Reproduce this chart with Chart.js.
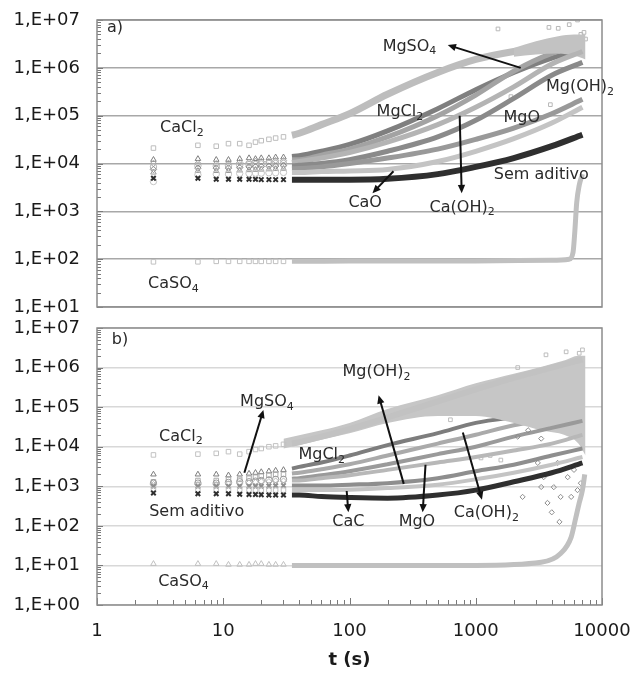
<!DOCTYPE html>
<html lang="pt">
<head>
<meta charset="utf-8">
<title>t (s)</title>
<script src="https://cdn.jsdelivr.net/npm/chart.js@4.4.1/dist/chart.umd.min.js"></script>
<style>
  html, body { margin: 0; padding: 0; background: #fff; }
  #fig { position: relative; width: 633px; height: 674px; }
  #chartA { position: absolute; left: 0; top: 0; }
  #chartB { position: absolute; left: 0; top: 315px; }
</style>
</head>
<body>
<div id="fig">
  <canvas id="chartA" width="633" height="315"></canvas>
  <canvas id="chartB" width="633" height="359"></canvas>
</div>
<script>
// sample times (s) shared by the band series of both panels
const T = [2.8, 6.3, 8.8, 11, 13.5, 16, 18, 20, 23, 26, 30, 35, 40, 60, 100, 200, 500, 1000, 2000, 4000, 7000];
const LINE_START = 35; // before this the readings are sparse markers

// tick labels
const X_LABELS = ['1', '10', '100', '1000', '10000'];
const Y_LABELS = ['1,E+00', '1,E+01', '1,E+02', '1,E+03', '1,E+04', '1,E+05', '1,E+06', '1,E+07'];

// ---- panel a) ----
const A_CACL2 = [2.1e4, 2.4e4, 2.3e4, 2.6e4, 2.6e4, 2.4e4, 2.8e4, 3.0e4, 3.2e4, 3.4e4, 3.6e4, 3.9e4, 4.3e4, 6.5e4, 1.1e5, 2.8e5, 8e5, 1.5e6, 2.2e6, 2.8e6, 3.6e6];
const A_MGCL2 = [1.2e4, 1.25e4, 1.2e4, 1.2e4, 1.25e4, 1.3e4, 1.25e4, 1.3e4, 1.3e4, 1.35e4, 1.35e4, 1.4e4, 1.45e4, 1.8e4, 2.5e4, 4.8e4, 1.4e5, 3.5e5, 8e5, 1.6e6, 2.4e6];
const A_MGSO4 = [1.0e4, 1.0e4, 9.8e3, 1.0e4, 1.05e4, 1.05e4, 1.1e4, 1.1e4, 1.1e4, 1.15e4, 1.15e4, 1.2e4, 1.2e4, 1.5e4, 2.0e4, 3.6e4, 1.0e5, 2.7e5, 8.5e5, 2.0e6, 3.0e6];
const A_CAOH2 = [8.5e3, 9e3, 8.8e3, 9e3, 9.2e3, 9.5e3, 9.5e3, 9.8e3, 1e4, 1e4, 1e4, 1.05e4, 1.1e4, 1.3e4, 1.7e4, 2.8e4, 6.5e4, 1.5e5, 4e5, 1.2e6, 2.2e6];
const A_MGOH2 = [7.5e3, 8e3, 8e3, 8e3, 8.2e3, 8.5e3, 8.5e3, 8.6e3, 8.8e3, 8.8e3, 9e3, 9e3, 9.2e3, 1e4, 1.2e4, 1.8e4, 3.6e4, 8e4, 2.3e5, 7e5, 1.3e6];
const A_MGO = [6.5e3, 7e3, 7e3, 7e3, 7.2e3, 7.3e3, 7.4e3, 7.5e3, 7.6e3, 7.7e3, 7.8e3, 7.8e3, 7.9e3, 8.5e3, 1e4, 1.3e4, 2e4, 3.2e4, 5.5e4, 1.1e5, 2.2e5];
const A_CAO = [4.2e3, 5.8e3, 6e3, 6e3, 6.2e3, 6.2e3, 6.3e3, 6.3e3, 6.4e3, 6.4e3, 6.5e3, 6.5e3, 6.5e3, 6.8e3, 7e3, 7.5e3, 1.1e4, 1.8e4, 3.3e4, 7e4, 1.5e5];
const A_SEM = [4.9e3, 4.9e3, 4.7e3, 4.7e3, 4.7e3, 4.7e3, 4.7e3, 4.6e3, 4.6e3, 4.6e3, 4.6e3, 4.6e3, 4.6e3, 4.6e3, 4.6e3, 4.8e3, 6e3, 8.5e3, 1.3e4, 2.3e4, 4e4];
const T_CASO4_A = [2.8, 6.3, 8.8, 11, 13.5, 16, 18, 20, 23, 26, 30, 35, 40, 100, 1000, 4000, 5500, 5900, 6100, 6300, 6600, 7000];
const A_CASO4 = [88, 88, 90, 90, 90, 90, 90, 90, 90, 90, 90, 90, 90, 92, 92, 95, 100, 140, 400, 1500, 3500, 6000];
const T_CLOUD_A = [2000, 3000, 4500, 6000, 7400];
const A_CLOUD_HI = [2.6e6, 3.6e6, 4.6e6, 5e6, 5e6];
const A_CLOUD_LO = [1.7e6, 1.9e6, 2e6, 1.8e6, 1.5e6];
const T_NOISE_A = [1500, 1900, 3800, 3900, 4500, 5500, 6400, 6800, 7200, 7400];
const A_NOISE = [6.5e6, 2.5e5, 7e6, 1.7e5, 6.7e6, 8e6, 1e7, 5e6, 5.5e6, 4e6];

// ---- panel b) ----
const B_CACL2 = [6.2e3, 6.5e3, 6.8e3, 7.5e3, 6.5e3, 7.5e3, 8.5e3, 9e3, 1e4, 1.05e4, 1.15e4, 1.2e4, 1.3e4, 1.8e4, 2.8e4, 5.5e4, 1.4e5, 2.8e5, 5.5e5, 1e6, 1.6e6];
const B_MGSO4 = [2.0e3, 2.0e3, 2.0e3, 1.9e3, 2.0e3, 2.1e3, 2.2e3, 2.3e3, 2.4e3, 2.5e3, 2.6e3, 2.8e3, 3.1e3, 4e3, 6e3, 1.1e4, 2.2e4, 4e4, 5.5e4, 7e4, 9e4];
const B_MGCL2 = [1.3e3, 1.4e3, 1.4e3, 1.5e3, 1.5e3, 1.6e3, 1.7e3, 1.8e3, 1.9e3, 2e3, 2e3, 2.1e3, 2.2e3, 2.7e3, 3.6e3, 6e3, 1.2e4, 2e4, 3.5e4, 5e4, 7e4];
const B_CAOH2 = [1.2e3, 1.2e3, 1.2e3, 1.25e3, 1.3e3, 1.3e3, 1.35e3, 1.4e3, 1.45e3, 1.5e3, 1.5e3, 1.55e3, 1.6e3, 1.9e3, 2.4e3, 3.6e3, 6.5e3, 1e4, 1.8e4, 3e4, 4.5e4];
const B_MGO = [1.1e3, 1.1e3, 1.1e3, 1.15e3, 1.2e3, 1.2e3, 1.25e3, 1.3e3, 1.3e3, 1.35e3, 1.35e3, 1.4e3, 1.4e3, 1.6e3, 1.9e3, 2.6e3, 4e3, 5.5e3, 8e3, 1.2e4, 2e4];
const B_MGOH2 = [1e3, 1e3, 1e3, 1e3, 1e3, 1e3, 1e3, 1e3, 1.02e3, 1.03e3, 1.04e3, 1.05e3, 1.05e3, 1.05e3, 1.1e3, 1.2e3, 1.6e3, 2.4e3, 3.5e3, 6e3, 9e3];
const B_CAO = [8e2, 8e2, 8e2, 8e2, 8e2, 8e2, 8e2, 8e2, 8e2, 8e2, 8e2, 8e2, 8e2, 8e2, 8.2e2, 9e2, 1.1e3, 1.5e3, 2.2e3, 3.5e3, 5.5e3];
const B_SEM = [6.8e2, 6.5e2, 6.5e2, 6.5e2, 6.3e2, 6.2e2, 6.2e2, 6.1e2, 6e2, 6e2, 6e2, 6e2, 6e2, 5.5e2, 5.2e2, 5e2, 6e2, 8e2, 1.3e3, 2.2e3, 3.9e3];
const T_CASO4_B = [2.8, 6.3, 8.8, 11, 13.5, 16, 18, 20, 23, 26, 30, 35, 40, 100, 1000, 3300, 4700, 5700, 6200, 6600, 7000, 7300];
const B_CASO4 = [11, 11, 11, 10.5, 10.5, 10.5, 11, 11, 10.5, 10.5, 10.5, 10, 10, 10, 10, 12, 20, 52, 160, 380, 800, 2000];
const T_CLOUD_B = [30, 60, 100, 200, 500, 1000, 2000, 3500, 5000, 6500, 7400];
const B_CLOUD_HI = [1.6e4, 2.6e4, 4e4, 9e4, 2e5, 4e5, 7e5, 1.1e6, 1.5e6, 2e6, 2e6];
const B_CLOUD_LO = [9e3, 1.5e4, 2.2e4, 4e4, 6e4, 6e4, 4e4, 2.5e4, 2e4, 1.2e4, 6e3];
const T_NOISE_B = [2150, 2350, 2600, 3100, 3300, 3300, 3450, 3700, 4000, 4150, 4450, 4600, 4700, 5350, 5700, 6000, 6400, 6800];
const B_NOISE = [1.8e4, 5.4e2, 2.6e4, 3.9e3, 9.6e2, 1.6e4, 1.7e3, 3.8e2, 2.2e2, 9.5e2, 3.9e3, 1.26e2, 5.4e2, 1.7e3, 5.4e2, 2.6e3, 8e2, 1.2e3];
const T_NOISE_B2 = [630, 1100, 1300, 1580, 2150, 3600, 5200, 6600, 7000];
const B_NOISE2 = [4.8e4, 5.2e3, 6e3, 4.6e3, 1e6, 2.1e6, 2.5e6, 2.3e6, 2.8e6];

// labels [text, t, value] (left edge, middle) and arrows [t1, v1, t2, v2]
const NOTES_A = [
  ['a)', 1.2, 6.8e6], ['CaCl2', 3.16, 5.5e4], ['CaSO4', 2.54, 30], ['MgSO4', 183, 2.8e6],
  ['Mg(OH)2', 3600, 4e5], ['MgCl2', 164, 1.2e5], ['MgO', 1660, 8.9e4],
  ['Sem aditivo', 1390, 5.8e3], ['CaO', 98, 1.5e3], ['Ca(OH)2', 431, 1.2e3],
];
const ARROWS_A = [[2270, 1e6, 600, 3e6], [223, 6.9e3, 152, 2.4e3], [746, 1e5, 774, 2.4e3]];
const NOTES_B = [
  ['b)', 1.31, 5e6], ['MgSO4', 13.6, 1.35e5], ['CaCl2', 3.1, 1.8e4], ['Sem aditivo', 2.59, 2.2e2],
  ['CaSO4', 3.05, 3.9], ['MgCl2', 39.4, 6.2e3], ['Mg(OH)2', 88, 7.7e5],
  ['CaC', 73, 1.26e2], ['MgO', 245, 1.26e2], ['Ca(OH)2', 670, 2.1e2],
];
const ARROWS_B = [[14.7, 2.2e3, 20.8, 8.5e4], [269, 1.15e3, 170, 2e5], [95, 7.6e2, 98, 2.2e2], [400, 3.5e3, 380, 2.2e2], [790, 2.3e4, 1120, 4.6e2]];

const FONT = 'DejaVu Sans';
const isDecade = v => Math.abs(Math.log10(v) - Math.round(Math.log10(v))) < 1e-9;
const pts = (xs, ys) => xs.map((t, i) => ({ x: t, y: ys[i] }));

// 1..9 x 10^e ticks (no 1.5 steps)
function logTicks(lo, hi) {
  const out = [];
  for (let e = lo; e <= hi; e++) {
    for (let k = 1; k <= 9; k++) {
      if (e === hi && k > 1) break;
      out.push({ value: k * Math.pow(10, e) });
    }
  }
  return out;
}

// thick band, early readings as hollow markers
function band(label, xs, ys, color, style, width, order) {
  return {
    label, data: pts(xs, ys), order,
    borderColor: color, borderWidth: width, cubicInterpolationMode: 'monotone',
    pointStyle: style, pointBorderColor: color, pointBackgroundColor: 'rgba(0,0,0,0)',
    pointBorderWidth: style === 'crossRot' ? 2 : 1,
    pointRadius: c => (c.raw && c.raw.x < LINE_START ? 3.2 : 0),
    segment: { borderColor: c => (c.p0.parsed.x < LINE_START ? 'rgba(0,0,0,0)' : undefined) },
    fill: false,
  };
}

function cloud(xs, hi, lo, color, order) {
  const base = { pointRadius: 0, borderWidth: 0, cubicInterpolationMode: 'monotone', order };
  return [
    { ...base, label: 'hi', data: pts(xs, hi), fill: false },
    { ...base, label: 'lo', data: pts(xs, lo), fill: '-1', backgroundColor: color },
  ];
}

function scatter(xs, ys, color, style, order) {
  return { label: 'pts', data: pts(xs, ys), showLine: false, order, pointStyle: style, pointRadius: 2.6,
    pointBorderColor: color, pointBackgroundColor: 'rgba(0,0,0,0)', pointBorderWidth: 1 };
}

// chemical formula with subscript digits
function drawChem(ctx, txt, x, y) {
  let cx = x;
  for (const part of txt.match(/\d+|\D+/g)) {
    const sub = /^\d+$/.test(part);
    ctx.font = (sub ? '11px ' : '16px ') + '"' + FONT + '"';
    ctx.fillText(part, cx, sub ? y + 5 : y);
    cx += ctx.measureText(part).width;
  }
}

function drawArrow(ctx, x1, y1, x2, y2) {
  const ang = Math.atan2(y2 - y1, x2 - x1), h = 9;
  ctx.beginPath();
  ctx.moveTo(x1, y1);
  ctx.lineTo(x2 - Math.cos(ang) * h * 0.7, y2 - Math.sin(ang) * h * 0.7);
  ctx.stroke();
  ctx.beginPath();
  ctx.moveTo(x2, y2);
  ctx.lineTo(x2 - h * Math.cos(ang - 0.42), y2 - h * Math.sin(ang - 0.42));
  ctx.lineTo(x2 - h * Math.cos(ang + 0.42), y2 - h * Math.sin(ang + 0.42));
  ctx.closePath();
  ctx.fill();
}

// frame, inner minor ticks, labels and arrows
const framePlugin = {
  id: 'frame',
  afterDraw(chart, args, opts) {
    const { ctx, chartArea: a, scales: { x, y } } = chart;
    ctx.save();
    ctx.strokeStyle = '#7a7a7a';
    ctx.lineWidth = 1;
    y.ticks.forEach(t => {
      const py = Math.round(y.getPixelForValue(t.value)) + 0.5;
      const len = isDecade(t.value) ? 6 : 4;
      ctx.beginPath(); ctx.moveTo(a.left, py); ctx.lineTo(a.left + len, py); ctx.stroke();
    });
    if (opts.xTicks) {
      x.ticks.forEach(t => {
        const px = Math.round(x.getPixelForValue(t.value)) + 0.5;
        const len = isDecade(t.value) ? 7 : 5;
        ctx.beginPath(); ctx.moveTo(px, a.bottom); ctx.lineTo(px, a.bottom - len); ctx.stroke();
      });
    }
    ctx.strokeStyle = '#8c8c8c';
    ctx.lineWidth = 1.5;
    ctx.strokeRect(a.left, a.top, a.right - a.left, a.bottom - a.top);

    ctx.fillStyle = '#111';
    ctx.strokeStyle = '#111';
    ctx.lineWidth = 2;
    opts.arrows.forEach(([t1, v1, t2, v2]) => {
      drawArrow(ctx, x.getPixelForValue(t1), y.getPixelForValue(v1), x.getPixelForValue(t2), y.getPixelForValue(v2));
    });
    ctx.fillStyle = '#2a2a2a';
    ctx.textAlign = 'left';
    ctx.textBaseline = 'middle';
    opts.notes.forEach(([txt, t, v]) => drawChem(ctx, txt, x.getPixelForValue(t), y.getPixelForValue(v)));
    ctx.restore();
  },
};

function yScale(minExp, gridColor) {
  return {
    type: 'logarithmic', min: Math.pow(10, minExp), max: 1e7,
    afterBuildTicks: s => { s.ticks = logTicks(minExp, 7); },
    afterFit: s => { s.width = 97; s.paddingTop = 0; s.paddingBottom = 0; },
    border: { display: false },
    grid: { drawTicks: false, lineWidth: 1.5, color: c => (c.tick && isDecade(c.tick.value) ? gridColor : 'rgba(0,0,0,0)') },
    ticks: {
      autoSkip: false, padding: 17, color: '#1a1a1a', font: { family: FONT, size: 18 },
      callback: v => (isDecade(v) ? Y_LABELS[Math.round(Math.log10(v))] : ''),
    },
  };
}

function makeChart(id, datasets, cfg) {
  return new Chart(document.getElementById(id), {
    type: 'line',
    data: { datasets },
    options: {
      responsive: false, animation: false, events: [],
      layout: { padding: { top: cfg.padTop, right: 31, left: 0, bottom: 0 } },
      plugins: {
        legend: { display: false }, tooltip: { enabled: false },
        frame: { xTicks: cfg.bottom, notes: cfg.notes, arrows: cfg.arrows },
      },
      scales: {
        x: {
          type: 'logarithmic', min: 1, max: 10000,
          afterBuildTicks: s => { s.ticks = logTicks(0, 4); },
          afterFit: s => { s.height = cfg.bottom ? 69 : 8; s.paddingLeft = 0; s.paddingRight = 0; },
          border: { display: false },
          grid: { display: false, drawTicks: false },
          ticks: {
            display: cfg.bottom, autoSkip: false, maxRotation: 0, padding: 16,
            color: '#1a1a1a', font: { family: FONT, size: 18 },
            callback: v => (isDecade(v) ? X_LABELS[Math.round(Math.log10(v))] : ''),
          },
          title: {
            display: cfg.bottom, text: 't (s)', color: '#1a1a1a',
            font: { family: FONT, size: 18, weight: 'bold' }, padding: { top: 0, bottom: 3 },
          },
        },
        y: yScale(cfg.minExp, cfg.grid),
      },
    },
    plugins: [framePlugin],
  });
}

// ① panel a)
makeChart('chartA', [
  band('Sem aditivo', T, A_SEM, '#2f2f2f', 'crossRot', 6, 0),
  band('CaSO4', T_CASO4_A, A_CASO4, '#c0c0c0', 'rect', 5, 1),
  band('CaO', T, A_CAO, '#c4c4c4', 'circle', 5, 2),
  band('MgO', T, A_MGO, '#999999', 'triangle', 5, 3),
  band('Mg(OH)2', T, A_MGOH2, '#8a8a8a', 'rectRot', 5, 4),
  band('Ca(OH)2', T, A_CAOH2, '#b4b4b4', 'circle', 5, 5),
  ...cloud(T_CLOUD_A, A_CLOUD_HI, A_CLOUD_LO, '#c2c2c2', 6),
  scatter(T_NOISE_A, A_NOISE, '#b8b8b8', 'rect', 6),
  band('CaCl2', T, A_CACL2, '#bdbdbd', 'rect', 7, 7),
  band('MgSO4', T, A_MGSO4, '#a3a3a3', 'rectRot', 5, 8),
  band('MgCl2', T, A_MGCL2, '#7f7f7f', 'triangle', 5, 9),
], { padTop: 20, bottom: false, minExp: 1, grid: '#a8a8a8', notes: NOTES_A, arrows: ARROWS_A });

// ② panel b)
makeChart('chartB', [
  band('Sem aditivo', T, B_SEM, '#2f2f2f', 'crossRot', 5, 0),
  band('CaSO4', T_CASO4_B, B_CASO4, '#c0c0c0', 'triangle', 5, 1),
  band('CaO', T, B_CAO, '#c4c4c4', 'rect', 4, 2),
  band('Mg(OH)2', T, B_MGOH2, '#8e8e8e', 'crossRot', 4, 3),
  band('MgO', T, B_MGO, '#b8b8b8', 'rectRot', 4, 4),
  scatter(T_NOISE_B, B_NOISE, '#8c8c8c', 'rectRot', 4),
  band('Ca(OH)2', T, B_CAOH2, '#9a9a9a', 'circle', 4, 5),
  scatter(T_NOISE_B2, B_NOISE2, '#bdbdbd', 'rect', 5),
  band('CaCl2', T, B_CACL2, '#c2c2c2', 'rect', 6, 6),
  ...cloud(T_CLOUD_B, B_CLOUD_HI, B_CLOUD_LO, '#c6c6c6', 7),
  band('MgCl2', T, B_MGCL2, '#aaaaaa', 'rect', 4, 8),
  band('MgSO4', T, B_MGSO4, '#7d7d7d', 'triangle', 4, 9),
], { padTop: 13, bottom: true, minExp: 0, grid: '#d8d8d8', notes: NOTES_B, arrows: ARROWS_B });
</script>
</body>
</html>
